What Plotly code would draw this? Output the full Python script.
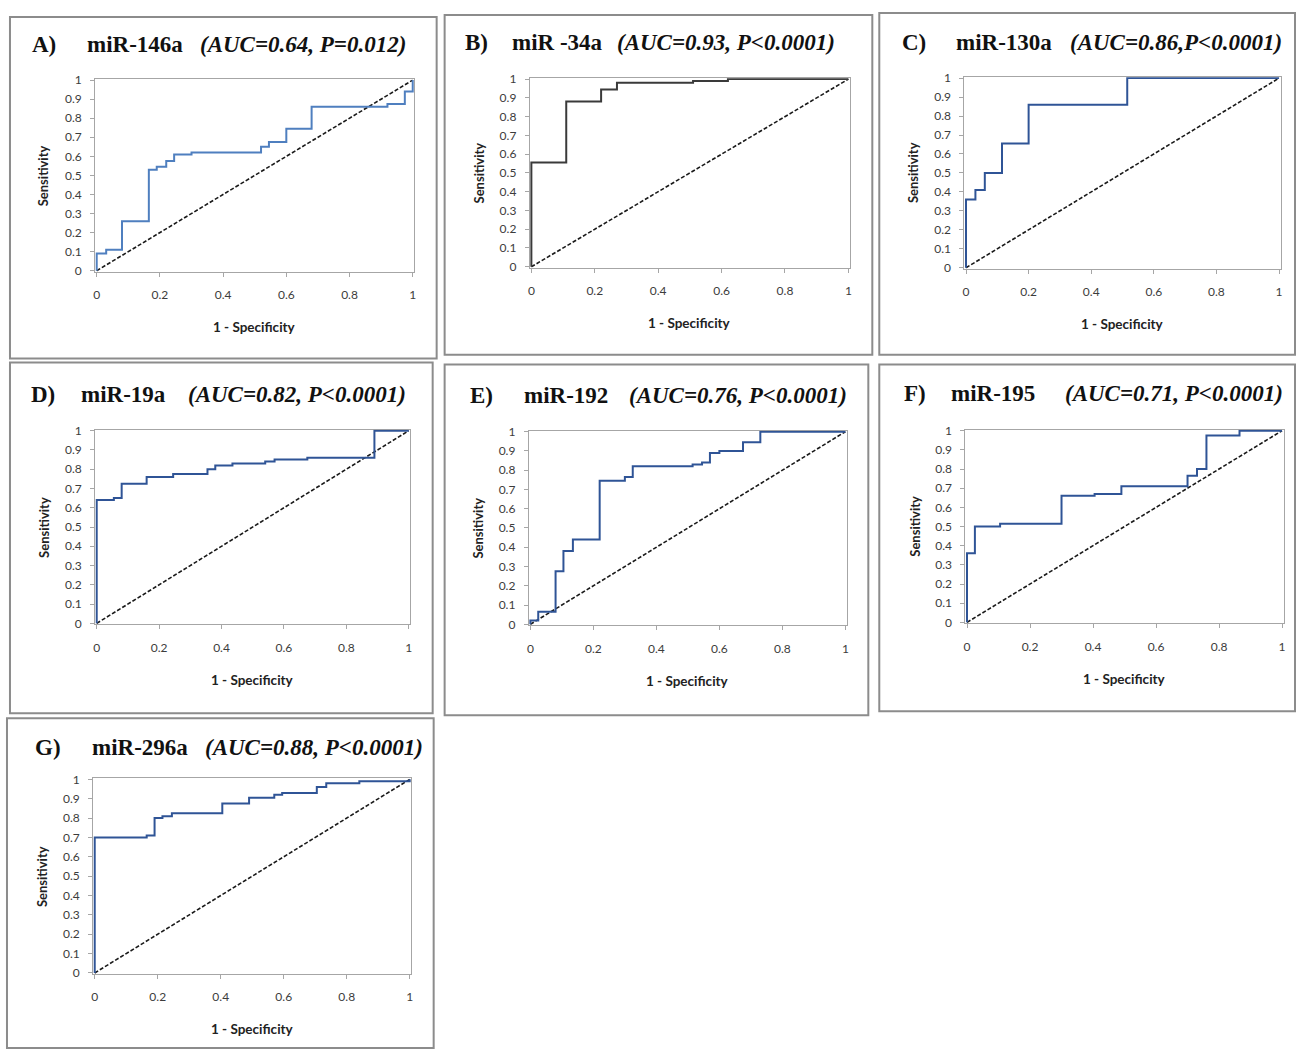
import plotly.graph_objects as go

W, H = 1298, 1055

# ---------------- data (step vertices of ROC curves) ----------------
x_A = [0, 0, 0.03, 0.08, 0.165, 0.19, 0.22, 0.245, 0.30, 0.52, 0.545, 0.60, 0.68, 0.92, 0.975, 1.0]
y_A = [0, 0.09, 0.11, 0.26, 0.53, 0.545, 0.575, 0.61, 0.62, 0.65, 0.675, 0.745, 0.86, 0.875, 0.94, 1.0]

x_B = [0, 0, 0.11, 0.22, 0.27, 0.51, 0.62, 1.0]
y_B = [0, 0.555, 0.88, 0.945, 0.98, 0.99, 1.0, 1.0]

x_C = [0, 0, 0.03, 0.06, 0.115, 0.20, 0.515, 1.0]
y_C = [0, 0.36, 0.41, 0.50, 0.655, 0.86, 1.0, 1.0]

x_D = [0, 0, 0.055, 0.08, 0.16, 0.245, 0.355, 0.38, 0.435, 0.54, 0.57, 0.675, 0.89, 1.0]
y_D = [0, 0.64, 0.65, 0.725, 0.76, 0.775, 0.80, 0.82, 0.83, 0.84, 0.85, 0.86, 1.0, 1.0]

x_E = [0, 0, 0.025, 0.08, 0.105, 0.135, 0.22, 0.30, 0.325, 0.515, 0.545, 0.57, 0.60, 0.675, 0.73, 1.0]
y_E = [0, 0.02, 0.065, 0.275, 0.38, 0.44, 0.745, 0.765, 0.82, 0.83, 0.84, 0.89, 0.90, 0.945, 1.0, 1.0]

x_F = [0, 0, 0.025, 0.105, 0.30, 0.405, 0.49, 0.70, 0.73, 0.76, 0.865, 1.0]
y_F = [0, 0.36, 0.50, 0.515, 0.66, 0.67, 0.71, 0.765, 0.80, 0.975, 1.0, 1.0]

x_G = [0, 0, 0.165, 0.19, 0.215, 0.245, 0.405, 0.49, 0.57, 0.595, 0.705, 0.735, 0.84, 1.0]
y_G = [0, 0.70, 0.71, 0.80, 0.81, 0.825, 0.875, 0.905, 0.92, 0.93, 0.96, 0.98, 0.99, 1.0]

diag_x = [0, 1]
diag_y = [0, 1]

labels = ["A)", "B)", "C)", "D)", "E)", "F)", "G)"]
mirnas = ["miR-146a", "miR -34a", "miR-130a", "miR-19a", "miR-192", "miR-195", "miR-296a"]
stats = ["(AUC=0.64, P=0.012)", "(AUC=0.93, P<0.0001)", "(AUC=0.86,P<0.0001)",
         "(AUC=0.82, P<0.0001)", "(AUC=0.76, P<0.0001)", "(AUC=0.71, P<0.0001)",
         "(AUC=0.88, P<0.0001)"]
y_tickvals = [0, 0.1, 0.2, 0.3, 0.4, 0.5, 0.6, 0.7, 0.8, 0.9, 1]
y_ticktext = ["0", "0.1", "0.2", "0.3", "0.4", "0.5", "0.6", "0.7", "0.8", "0.9", "1"]
x_tickvals = [0, 0.2, 0.4, 0.6, 0.8, 1]
x_ticktext = ["0", "0.2", "0.4", "0.6", "0.8", "1"]
x_title = "1 - Specificity"
y_title = "Sensitivity"

curves = [(x_A, y_A), (x_B, y_B), (x_C, y_C), (x_D, y_D), (x_E, y_E), (x_F, y_F), (x_G, y_G)]

# ---------------- layout (pixel geometry) ----------------
# plot area: pixel of x=0, x=1, y=1 (top), y=0 (bottom)
plot_px = [
    (95, 412, 74, 267),
    (531, 849, 73, 263),
    (967, 1281, 72, 264),
    (95, 408, 429, 624),
    (530, 846, 430, 625),
    (968, 1284, 429, 623),
    (93, 409, 782, 978),
]
# panel frame boxes
boxes = [
    (8, 10, 436, 356),
    (444, 8, 873, 352),
    (880, 6, 1297, 352),
    (8, 360, 432, 715),
    (444, 362, 869, 717),
    (880, 362, 1297, 713),
    (5, 720, 433, 1054),
]
# title positions: (label_x, mirna_x, stat_x, center_y)
title_pos = [
    (28, 83, 197, 38),
    (462, 510, 615, 36),
    (901, 955, 1069, 36),
    (27, 77, 185, 392),
    (467, 522, 627, 393),
    (903, 950, 1064, 391),
    (31, 88, 202, 750),
]
line_colors = ["#4f7fbf", "#3a3a3a", "#2f5496", "#2f5496", "#2f5496", "#2f5496", "#2f5496"]

PAD = 0.005

fig = go.Figure()
annotations = []
shapes = []
layout_axes = {}

for i, ((xs, ys), (x0p, x1p, ytp, ybp)) in enumerate(zip(curves, plot_px)):
    n = i + 1
    xa = "x" if n == 1 else f"x{n}"
    ya = "y" if n == 1 else f"y{n}"
    xkey = "xaxis" if n == 1 else f"xaxis{n}"
    ykey = "yaxis" if n == 1 else f"yaxis{n}"
    wpx = x1p - x0p
    hpx = ybp - ytp
    dom_x = [(x0p - PAD * wpx) / W, (x1p + PAD * wpx) / W]
    dom_y = [1 - (ybp + PAD * hpx) / H, 1 - (ytp - PAD * hpx) / H]

    fig.add_trace(go.Scatter(x=diag_x, y=diag_y, mode="lines", xaxis=xa, yaxis=ya,
                             line=dict(color="#1a1a1a", width=1.6, dash="4px,2px"),
                             showlegend=False, hoverinfo="skip"))
    fig.add_trace(go.Scatter(x=xs, y=ys, mode="lines", xaxis=xa, yaxis=ya,
                             line=dict(color=line_colors[i], width=2, shape="hv"),
                             showlegend=False))

    common = dict(showgrid=False, zeroline=False, showline=True, mirror=True,
                  linecolor="#a6a6a6", linewidth=1, ticks="outside", ticklen=4,
                  tickcolor="#a6a6a6", layer="below traces",
                  tickfont=dict(family="Lato", size=12, color="#3c3c3c"),
                  range=[-PAD, 1 + PAD], fixedrange=True)
    layout_axes[xkey] = dict(common, domain=dom_x, anchor=ya, tickvals=x_tickvals,
                             ticktext=x_ticktext, ticklabelstandoff=8)
    layout_axes[ykey] = dict(common, domain=dom_y, anchor=xa, tickvals=y_tickvals,
                             ticktext=y_ticktext, ticklabelstandoff=6)

    # axis titles
    annotations.append(dict(text=f"<b>{x_title}</b>", x=(x0p + x1p) / 2 / W,
                            y=1 - (ybp + 57) / H, xref="paper", yref="paper",
                            showarrow=False, xanchor="center", yanchor="middle",
                            font=dict(family="Lato", size=13.5, color="#222222")))
    annotations.append(dict(text=f"<b>{y_title}</b>", x=(x0p - 53) / W,
                            y=1 - (ytp + ybp) / 2 / H, xref="paper", yref="paper",
                            showarrow=False, xanchor="center", yanchor="middle",
                            textangle=-90,
                            font=dict(family="Lato", size=13, color="#222222")))
    # titles
    lx, mx, sx, cy = title_pos[i]
    for txt, xx, ital in ((labels[i], lx, False), (mirnas[i], mx, False), (stats[i], sx, True)):
        t = f"<b><i>{txt}</i></b>" if ital else f"<b>{txt}</b>"
        annotations.append(dict(text=t, x=xx / W, y=1 - cy / H, xref="paper", yref="paper",
                                showarrow=False, xanchor="left", yanchor="middle",
                                font=dict(family="Liberation Serif", size=23, color="#111111")))
    # frame
    bx0, by0, bx1, by1 = boxes[i]
    shapes.append(dict(type="rect", xref="paper", yref="paper",
                       x0=bx0 / W, x1=bx1 / W, y0=1 - by1 / H, y1=1 - by0 / H,
                       line=dict(color="#8c8c8c", width=2), layer="below"))

fig.update_layout(
    width=W, height=H,
    margin=dict(l=0, r=0, t=0, b=0),
    paper_bgcolor="white", plot_bgcolor="white",
    annotations=annotations, shapes=shapes,
    **layout_axes,
)

fig.write_html("out.html", config={"displayModeBar": False},
               post_script="document.body.style.margin='0px';document.body.style.overflow='hidden';")
